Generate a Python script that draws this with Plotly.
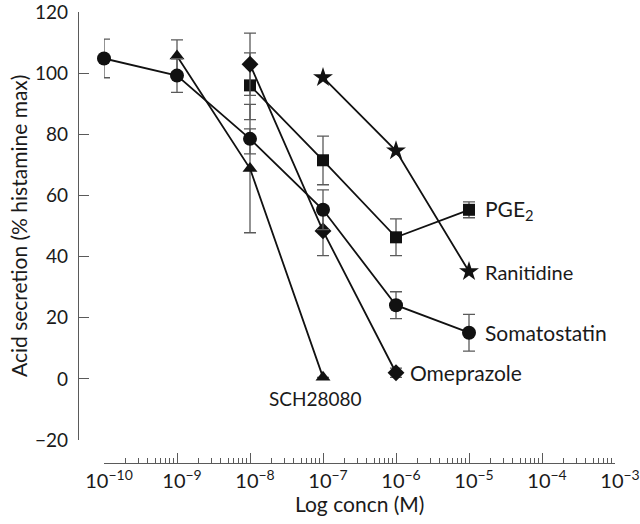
import numpy as np
import plotly.graph_objects as go

# ---- data ----
soma_x = [1e-10, 1e-9, 1e-8, 1e-7, 1e-6, 1e-5]
soma_y = [104.8, 99.2, 78.5, 55.3, 24.1, 15.1]
soma_err_plus = [6.3, 5.5, 3.3, 6.5, 4.4, 6.0]
soma_err_minus = [6.3, 5.5, 4.9, 6.5, 4.4, 6.0]

sch_x = [1e-9, 1e-8, 1e-7]
sch_y = [105.6, 68.8, 0.5]
sch_err = [5.3, 21.0, 0.0]

omep_x = [1e-8, 1e-7, 1e-6]
omep_y = [102.9, 48.4, 2.0]
omep_err = [10.2, 8.1, 1.5]

pge_x = [1e-8, 1e-7, 1e-6, 1e-5]
pge_y = [96.0, 71.5, 46.3, 55.3]
pge_err_plus = [10.6, 7.9, 6.0, 2.6]
pge_err_minus = [11.2, 8.0, 6.0, 2.6]

rani_x = [1e-7, 1e-6, 1e-5]
rani_y = [98.6, 74.6, 35.1]

x_tickvals = [1e-10, 1e-9, 1e-8, 1e-7, 1e-6, 1e-5, 1e-4, 1e-3]
x_ticktext = ["10<sup>−10</sup>", "10<sup>−9</sup>", "10<sup>−8</sup>", "10<sup>−7</sup>",
              "10<sup>−6</sup>", "10<sup>−5</sup>", "10<sup>−4</sup>", "10<sup>−3</sup>"]
y_tickvals = [-20, 0, 20, 40, 60, 80, 100, 120]

FONT = "Lato"
TXT = "#1a1a1a"
LINE = "#111111"
ERR = "#5a5a5a"
AX = "#5a5a5a"

W, H = 640, 524


def err(plus, minus=None):
    d = dict(type="data", array=plus, color=ERR, thickness=1.3, width=6, visible=True)
    if minus is not None:
        d["symmetric"] = False
        d["arrayminus"] = minus
    return d


fig = go.Figure()

common = dict(mode="lines+markers", line=dict(color=LINE, width=1.8), cliponaxis=False,
              showlegend=False, hoverinfo="skip")

fig.add_trace(go.Scatter(x=rani_x, y=rani_y, marker=dict(symbol="star", size=15, color=LINE),
                         **common))
fig.add_trace(go.Scatter(x=pge_x, y=pge_y, error_y=err(pge_err_plus, pge_err_minus),
                         marker=dict(symbol="square", size=12, color=LINE), **common))
fig.add_trace(go.Scatter(x=omep_x, y=omep_y, error_y=err(omep_err),
                         marker=dict(symbol="diamond", size=13, color=LINE), **common))
fig.add_trace(go.Scatter(x=sch_x, y=sch_y, error_y=err(sch_err),
                         marker=dict(symbol="triangle-up", size=13, color=LINE), **common))
fig.add_trace(go.Scatter(x=soma_x, y=soma_y, error_y=err(soma_err_plus, soma_err_minus),
                         marker=dict(symbol="circle", size=14, color=LINE), **common))

# series labels: (text, x, y, xshift, yshift, xanchor, size)
labels = [
    ("PGE<sub>2</sub>", pge_x[-1], pge_y[-1], 14, 0, "left", 21),
    ("Ranitidine", rani_x[-1], rani_y[-1], 14, 0, "left", 20),
    ("Somatostatin", soma_x[-1], soma_y[-1], 14, 0, "left", 21),
    ("Omeprazole", omep_x[-1], omep_y[-1], 12, 0, "left", 21),
    ("SCH28080", sch_x[-1], sch_y[-1], -8, -21, "center", 19),
]
for text, x, y, xs, ys, xa, sz in labels:
    fig.add_annotation(x=np.log10(x), y=y, text=text, showarrow=False, xanchor=xa,
                       yanchor="middle", xshift=xs, yshift=ys,
                       font=dict(family=FONT, size=sz, color=TXT),
                       xref="x", yref="y")

# geometry in pixels
x_left, x_right = 104, 615
y_top, y_bot = 12, 440
yaxis_x = 78
xaxis_y = 463

fig.update_layout(
    width=W, height=H, autosize=False,
    margin=dict(l=0, r=0, t=0, b=0, pad=0),
    paper_bgcolor="white", plot_bgcolor="white",
    font=dict(family=FONT, size=20, color=TXT),
    xaxis=dict(
        type="log", range=[-10, -3],
        domain=[x_left / W, x_right / W],
        anchor="free", position=1 - xaxis_y / H,
        showgrid=False, zeroline=False,
        showline=True, linecolor=AX, linewidth=1.3,
        ticks="inside", ticklen=10, tickwidth=1.2, tickcolor=AX,
        tickvals=x_tickvals, ticktext=x_ticktext,
        tickfont=dict(family=FONT, size=20, color=TXT),
        ticklabelshift=5,
        ticklabeloverflow="allow",
        minor=dict(ticks="inside", ticklen=5, tickwidth=1, tickcolor=AX, dtick="D1",
                   showgrid=False),
        automargin=False,
    ),
    yaxis=dict(
        range=[-20, 120],
        domain=[1 - y_bot / H, 1 - y_top / H],
        anchor="free", position=yaxis_x / W,
        showgrid=False, zeroline=False,
        showline=True, linecolor=AX, linewidth=1.3,
        ticks="inside", ticklen=10, tickwidth=1.2, tickcolor=AX,
        tickvals=y_tickvals,
        tickfont=dict(family=FONT, size=19, color=TXT),
        ticklabelstandoff=6,
        ticklabeloverflow="allow",
        automargin=False,
    ),
)

fig.add_annotation(text="Log concn (M)", xref="paper", yref="paper",
                   x=(x_left + x_right) / 2 / W, y=1 - 503 / H, showarrow=False,
                   xanchor="center", yanchor="middle", font=dict(family=FONT, size=21, color=TXT))
fig.add_annotation(text="Acid secretion (% histamine max)", xref="paper", yref="paper",
                   x=18 / W, y=1 - ((y_top + y_bot) / 2) / H, showarrow=False, textangle=-90,
                   xanchor="center", yanchor="middle", font=dict(family=FONT, size=21, color=TXT))

fig.write_html("out.html", config={"displayModeBar": False},
               post_script="document.body.style.margin='0';")
